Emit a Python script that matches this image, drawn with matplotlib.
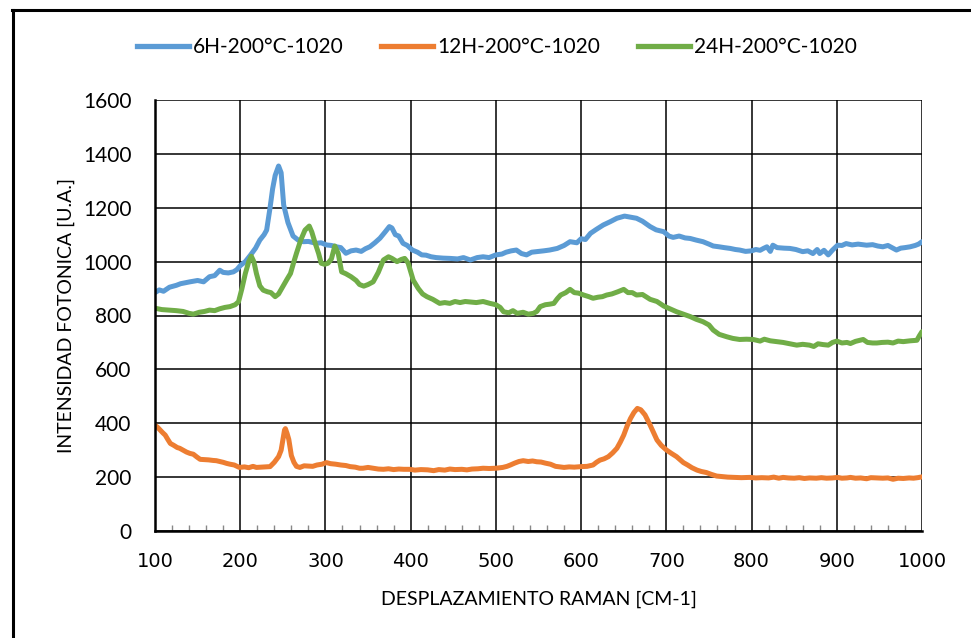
import matplotlib.pyplot as plt
from matplotlib.lines import Line2D
from matplotlib.ticker import MultipleLocator

# Raman shift (cm-1) and intensity
x_6h = [100, 105, 110, 117, 125, 130, 141, 150, 157, 164, 170, 176, 180, 186, 192, 196,
        200, 206, 212, 218, 223, 228, 231, 235, 238, 241, 245, 248, 251, 256, 262, 268,
        274, 280, 289, 295, 301, 307, 313, 318, 324, 330, 336, 342, 347, 352, 358, 364,
        370, 375, 378, 382, 386, 391, 396, 402, 408, 413, 418, 424, 430, 438, 446, 455,
        462, 470, 478, 485, 492, 500, 507, 512, 518, 524, 530, 536, 542, 548, 556, 563,
        572, 580, 587, 595, 600, 605, 611, 618, 626, 634, 642, 651, 658, 665, 672, 681,
        688, 697, 703, 708, 715, 722, 728, 735, 743, 750, 755, 762, 768, 775, 781, 786,
        793, 800, 805, 810, 814, 818, 822, 825, 830, 838, 845, 852, 860, 866, 872, 877,
        880, 885, 890, 895, 901, 906, 911, 918, 925, 935, 942, 948, 954, 960, 966, 970,
        975, 980, 986, 992, 996, 1000]
y_6h = [885, 895, 890, 905, 912, 918, 925, 930, 925, 944, 948, 968, 960, 958, 962, 970,
        985, 1000, 1024, 1050, 1080, 1100, 1117, 1200, 1270, 1320, 1355, 1330, 1210, 1145, 1095, 1080,
        1074, 1075, 1068, 1070, 1062, 1060, 1055, 1052, 1031, 1040, 1043, 1038, 1048, 1055, 1070, 1087,
        1110, 1130, 1125, 1100, 1095, 1068, 1060, 1043, 1035, 1025, 1024, 1018, 1015, 1013, 1012, 1010,
        1015, 1006, 1015, 1018, 1015, 1025, 1028, 1035, 1040, 1043, 1030, 1025, 1035, 1037, 1040, 1043,
        1049, 1060, 1074, 1070, 1085, 1082, 1105, 1120, 1136, 1148, 1161, 1169, 1165, 1161, 1150, 1130,
        1118, 1111, 1095, 1090, 1095, 1088, 1086, 1080, 1074, 1065, 1058, 1055, 1052, 1049, 1045, 1043,
        1038, 1040, 1045, 1042, 1049, 1055, 1038, 1061, 1052, 1050, 1049, 1045, 1037, 1040, 1030, 1045,
        1030, 1042, 1025, 1043, 1061, 1060, 1067, 1062, 1065, 1061, 1063, 1058, 1055, 1060, 1050, 1043,
        1050, 1052, 1055, 1060, 1065, 1074]

x_12h = [100, 103, 106, 109, 112, 115, 118, 122, 126, 129, 133, 137, 141, 145, 149, 153,
         158, 163, 168, 172, 176, 180, 184, 188, 193, 199, 205, 210, 215, 219, 224, 230,
         235, 240, 245, 248, 250, 252, 253, 255, 257, 260, 263, 266, 270, 275, 280, 285,
         290, 296, 301, 306, 312, 318, 324, 329, 335, 340, 344, 350, 356, 362, 368, 374,
         380, 386, 392, 399, 405, 412, 420, 427, 433, 440, 446, 452, 460, 466, 472, 479,
         485, 492, 500, 508, 513, 517, 522, 527, 532, 538, 543, 548, 553, 558, 564, 570,
         575, 580, 586, 592, 600, 607, 614, 618, 622, 627, 632, 637, 642, 646, 650, 654,
         658, 662, 666, 670, 675, 681, 685, 689, 694, 700, 706, 712, 716, 720, 725, 730,
         736, 741, 747, 753, 759, 766, 772, 780, 788, 798, 805, 812, 820, 826, 832, 837,
         843, 850, 856, 862, 868, 876, 882, 888, 895, 901, 906, 912, 916, 922, 928, 935,
         940, 948, 954, 960, 966, 972, 978, 985, 990, 995, 1000]
y_12h = [393, 385, 375, 365, 356, 340, 325, 318, 310, 307, 300, 293, 288, 285, 275, 266,
         265, 264, 262, 261, 258, 255, 251, 248, 245, 236, 238, 235, 240, 236, 237, 238,
         239, 255, 276, 300, 338, 375, 380, 362, 340, 280, 255, 240, 236, 242, 241, 240,
         245, 248, 254, 250, 248, 245, 243, 239, 237, 233, 233, 236, 233, 230, 229, 231,
         228, 230, 229, 229, 226, 228, 227, 224, 228, 226, 230, 228, 229, 227, 230, 231,
         233, 232, 233, 236, 240, 245, 252, 258, 261, 258, 260, 257, 256, 252, 248, 240,
         238, 236, 238, 237, 239, 240, 245, 255, 263, 268, 276, 290, 307, 330, 356, 390,
         418, 440, 455, 450, 431, 393, 365, 338, 318, 301, 288, 276, 265, 254, 245, 235,
         226, 221, 217, 210, 204, 202, 200, 199, 198, 199, 197, 198, 197, 200, 196, 199,
         197, 196, 198, 195, 197, 196, 198, 196, 197, 199, 196, 197, 199, 196, 197, 194,
         198, 197, 196, 197, 192, 196, 195, 197, 196, 198, 201]

x_24h = [100, 108, 117, 125, 133, 140, 145, 152, 158, 164, 170, 176, 182, 188, 194, 198,
         202, 206, 210, 213, 216, 219, 223, 227, 232, 236, 241, 245, 251, 255, 259, 263,
         266, 271, 276, 281, 284, 288, 292, 295, 299, 303, 307, 311, 315, 319, 324, 330,
         336, 340, 345, 350, 356, 362, 368, 374, 378, 384, 389, 393, 397, 403, 409, 414,
         419, 426, 434, 440, 446, 452, 458, 464, 470, 477, 485, 493, 500, 505, 509, 515,
         520, 525, 532, 538, 544, 548, 552, 558, 563, 568, 572, 576, 582, 587, 592, 597,
         603, 609, 614, 620, 625, 630, 636, 643, 650, 655, 660, 665, 672, 681, 689, 697,
         704, 712, 720, 728, 735, 743, 750, 755, 762, 771, 778, 786, 794, 802, 810, 815,
         822, 830, 837, 845, 853, 860, 868, 873, 878, 884, 890, 895, 900, 906, 912, 916,
         922, 927, 931, 936, 942, 947, 953, 960, 966, 972, 978, 986, 994, 997, 1000]
y_24h = [827, 822, 820, 818, 815, 808, 805, 812, 815, 820, 818, 825, 830, 833, 840, 851,
         900, 956, 1000, 1020, 1000, 956, 910, 894, 888, 885, 870, 880, 913, 935, 956, 1000,
         1031, 1080, 1117, 1132, 1110, 1068, 1030, 994, 990, 994, 1010, 1058, 1030, 962, 955, 944,
         930, 915, 909, 915, 925, 960, 1006, 1018, 1012, 1000, 1008, 1012, 995, 931, 900, 880,
         870, 860, 845, 848, 845, 852, 848, 852, 850, 848, 852, 845, 840, 830, 814, 810,
         818, 808, 812, 805, 808, 815, 833, 840, 842, 845, 862, 876, 885, 897, 885, 883,
         876, 870, 864, 868, 870, 876, 880, 888, 897, 885, 885, 876, 878, 860, 852, 835,
         825, 814, 805, 796, 786, 777, 765, 746, 730, 721, 715, 711, 712, 711, 705, 712,
         706, 703, 700, 695, 690, 693, 690, 685, 695, 692, 690, 700, 705, 698, 700, 696,
         704, 708, 711, 700, 698, 698, 700, 701, 698, 705, 703, 706, 708, 725, 740]

labels = ['6H-200°C-1020', '12H-200°C-1020', '24H-200°C-1020']
colors = ['#5B9BD5', '#ED7D31', '#70AD47']

plt.rcParams['font.family'] = ['Lato', 'DejaVu Sans']

fig = plt.figure(figsize=(9.71, 6.38), dpi=100)
ax = fig.add_axes([155 / 971, 1 - 531 / 638, 767 / 971, 431 / 638])

series = [(x_6h, y_6h), (x_12h, y_12h), (x_24h, y_24h)]
for (xs, ys), lab, col in zip(series, labels, colors):
    ax.plot(xs, ys, color=col, lw=3.6, label=lab, solid_capstyle='round', zorder=3)

ax.set_xlim(100, 1000)
ax.set_ylim(0, 1600)
ax.xaxis.set_major_locator(MultipleLocator(100))
ax.xaxis.set_minor_locator(MultipleLocator(20))
ax.yaxis.set_major_locator(MultipleLocator(200))
ax.grid(True, which='major', color='black', lw=1.1, zorder=1)

for side in ['top', 'right']:
    ax.spines[side].set_visible(False)
for side in ['left', 'bottom']:
    ax.spines[side].set_linewidth(1.8)
    ax.spines[side].set_zorder(4)

ax.tick_params(axis='both', which='major', length=0, labelsize=15)
ax.tick_params(axis='y', pad=17)
ax.tick_params(axis='x', pad=15)
ax.tick_params(axis='x', which='minor', direction='in', length=4, width=1, color='#888888')
for t in ax.get_xticklabels():
    t.set_family('DejaVu Sans')
    t.set_fontsize(14)

ax.set_xlabel('DESPLAZAMIENTO RAMAN [CM-1]', fontsize=14, labelpad=14)
ax.set_ylabel('INTENSIDAD FOTONICA [U.A.]', fontsize=14, labelpad=6)

handles = [Line2D([], [], color=c, lw=3.8) for c in colors]
fig.legend(handles, labels, loc='center', bbox_to_anchor=(497 / 971, 1 - 47 / 638),
           ncol=3, frameon=False, fontsize=15, handlelength=2.5, handletextpad=0.2,
           columnspacing=1.8)

# chart border (left and top edges only visible)
fig.add_artist(Line2D([13 / 971, 13 / 971], [0, 1 - 10 / 638], color='black', lw=2.2,
                      transform=fig.transFigure))
fig.add_artist(Line2D([12 / 971, 1], [1 - 10 / 638, 1 - 10 / 638], color='black', lw=2.2,
                      transform=fig.transFigure))

plt.savefig('out.png', dpi=100)
